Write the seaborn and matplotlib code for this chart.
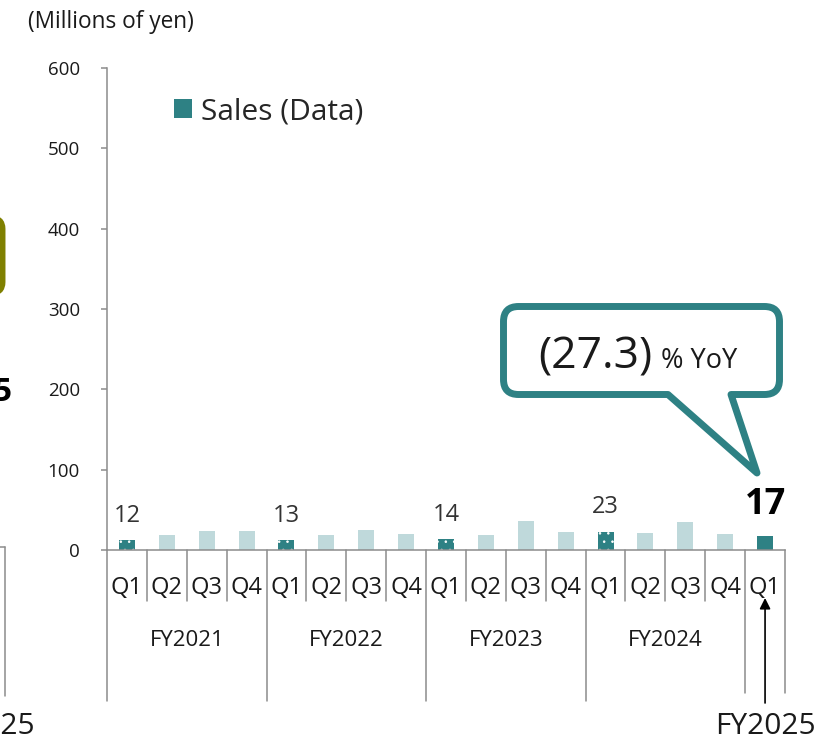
# Quarterly sales chart (Millions of yen), FY2021 - FY2025 Q1

import matplotlib
matplotlib.use("Agg")
import matplotlib.pyplot as plt
from matplotlib.patches import Patch, PathPatch, FancyBboxPatch
from matplotlib.path import Path
import seaborn as sns

sns.set_theme(style="white")
plt.rcParams["font.family"] = ["Open Sans", "DejaVu Sans"]
plt.rcParams["hatch.linewidth"] = 0.6

# ============================================
# Data
# ============================================
fiscal_years = ["FY2021", "FY2022", "FY2023", "FY2024", "FY2025"]
quarters = ["Q1", "Q2", "Q3", "Q4",
            "Q1", "Q2", "Q3", "Q4",
            "Q1", "Q2", "Q3", "Q4",
            "Q1", "Q2", "Q3", "Q4",
            "Q1"]
quarter_year = ["FY2021"] * 4 + ["FY2022"] * 4 + ["FY2023"] * 4 + ["FY2024"] * 4 + ["FY2025"]
sales = [12, 19, 24, 24, 13, 19, 25, 20, 14, 19, 36, 23, 23, 21, 35, 20, 17]
labelled = [0, 4, 8, 12, 16]
yoy_text = "(27.3)"

TEAL = "#2E8184"
LIGHT = "#BFD9DB"
GRAY = "#8C8C8C"
OLIVE = "#7F8000"

W, H = 818, 734

def fx(px):
    return px / W

def fy(py):
    return 1 - py / H

cat_ids = [f"{y} {q}" for y, q in zip(quarter_year, quarters)]
colors = {c: (TEAL if q == "Q1" else LIGHT) for c, q in zip(cat_ids, quarters)}

fig = plt.figure(figsize=(W / 100, H / 100), dpi=100)
ax = fig.add_axes([fx(107), fy(550), fx(785) - fx(107), fy(68) - fy(550)])

sns.barplot(x=cat_ids, y=sales, hue=cat_ids, palette=colors, legend=False,
            width=0.4, saturation=1, ax=ax)

# dotted fill for the past Q1 bars
for p in ax.patches:
    i = int(round(p.get_x() + p.get_width() / 2))
    p.set_linewidth(0)
    if quarters[i] == "Q1" and i != len(sales) - 1:
        p.set_edgecolor("white")
        p.set_hatch("..")

ax.set_xlim(-0.5, len(sales) - 0.5)
ax.set_ylim(0, 600)
ax.set_yticks(range(0, 601, 100))
ax.set_xticks(range(len(sales)))
ax.set_xticklabels(quarters)
ax.set_xlabel("")
ax.set_ylabel("")

for s in ["top", "right"]:
    ax.spines[s].set_visible(False)
for s in ["left", "bottom"]:
    ax.spines[s].set_color(GRAY)
    ax.spines[s].set_linewidth(1.1)

ax.tick_params(axis="y", direction="out", length=4.5, width=1.1, color=GRAY,
               pad=15, labelsize=13.5, labelcolor="#1a1a1a", left=True)
ax.tick_params(axis="x", length=0, pad=19, labelsize=17, labelcolor="#1a1a1a")

# category separators under the axis
xt = ax.get_xaxis_transform()
year_edges = [-0.5, 3.5, 7.5, 11.5]
for k in range(len(sales) + 1):
    x = k - 0.5
    if x in year_edges:
        y_end = -151 / 482
    elif x >= 15.5:
        y_end = -143 / 482
    else:
        y_end = -51 / 482
    ax.plot([x, x], [0, y_end], color=GRAY, lw=1.1, transform=xt, clip_on=False)

# fiscal year labels
for j, fyl in enumerate(fiscal_years[:-1]):
    ax.text(j * 4 + 1.5, -90 / 482, fyl, transform=xt, ha="center", va="center",
            fontsize=16, color="#1a1a1a")

ax.annotate("", xy=(16, -48 / 482), xytext=(16, -153 / 482), xycoords=xt,
            textcoords=xt, annotation_clip=False,
            arrowprops=dict(arrowstyle="-|>", color="black", lw=1.2,
                            mutation_scale=16, shrinkA=0, shrinkB=0))
ax.text(16, -184 / 482, fiscal_years[-1], transform=xt, ha="center",
        va="baseline", fontsize=21.5, color="#1a1a1a")

# bar value labels
for i in labelled:
    if i == len(sales) - 1:
        ax.annotate(f"{sales[i]}", xy=(i, sales[i]), xytext=(0, 16),
                    textcoords="offset points", ha="center", va="baseline",
                    fontsize=26, fontweight="bold", color="black")
    else:
        ax.annotate(f"{sales[i]}", xy=(i, sales[i]), xytext=(0, 13),
                    textcoords="offset points", ha="center", va="baseline",
                    fontsize=17, color="#333333")

# legend
ax.legend(handles=[Patch(facecolor=TEAL, edgecolor="none", label="Sales (Data)")],
          loc="upper left", bbox_to_anchor=(fx(174), fy(97)),
          bbox_transform=fig.transFigure, frameon=False, fontsize=21.5,
          handlelength=0.6, handleheight=0.6, handletextpad=0.3,
          borderpad=0, borderaxespad=0)

# unit label
fig.text(fx(28), fy(22), "(Millions of yen)", ha="left", va="center",
         fontsize=16.3, color="#1a1a1a")

# YoY callout bubble
l, t, r, b, rad = 503.5, 306.5, 779.5, 394.5, 15
tl, tr, tip = 668, 731, (757, 473)
pts = [
    ((l + rad, t), Path.MOVETO), ((r - rad, t), Path.LINETO),
    ((r, t), Path.CURVE3), ((r, t + rad), Path.CURVE3),
    ((r, b - rad), Path.LINETO),
    ((r, b), Path.CURVE3), ((r - rad, b), Path.CURVE3),
    ((tr, b), Path.LINETO), (tip, Path.LINETO), ((tl, b), Path.LINETO),
    ((l + rad, b), Path.LINETO),
    ((l, b), Path.CURVE3), ((l, b - rad), Path.CURVE3),
    ((l, t + rad), Path.LINETO),
    ((l, t), Path.CURVE3), ((l + rad, t), Path.CURVE3),
    ((l + rad, t), Path.CLOSEPOLY),
]
verts = [(fx(x), fy(y)) for (x, y), _ in pts]
codes = [c for _, c in pts]
bubble = PathPatch(Path(verts, codes), facecolor="white", edgecolor=TEAL,
                   lw=5, joinstyle="round", transform=fig.transFigure)
fig.add_artist(bubble)
fig.text(fx(652), fy(368), yoy_text, ha="right", va="baseline", fontsize=32,
         color="#1a1a1a")
fig.text(fx(661), fy(368), "% YoY", ha="left", va="baseline", fontsize=19.5,
         color="#1a1a1a")

# pieces of the neighbouring chart cut at the left edge
fig.add_artist(FancyBboxPatch((fx(-150), fy(293)), fx(152), fy(218) - fy(293),
                              boxstyle="round,pad=0,rounding_size=0.015",
                              facecolor="none", edgecolor=OLIVE, lw=5,
                              transform=fig.transFigure))
fig.text(fx(12), fy(401), "5", ha="right", va="baseline", fontsize=24,
         fontweight="bold", color="black")
fig.add_artist(plt.Line2D([fx(4.5), fx(4.5)], [fy(547), fy(696)], color=GRAY,
                          lw=1.1, transform=fig.transFigure))
fig.add_artist(plt.Line2D([fx(0), fx(4.5)], [fy(547), fy(547)], color=GRAY,
                          lw=1.1, transform=fig.transFigure))
fig.text(fx(35), fy(734), "FY2025", ha="right", va="baseline", fontsize=21.5,
         color="#1a1a1a")

fig.savefig("out.png", dpi=100)
